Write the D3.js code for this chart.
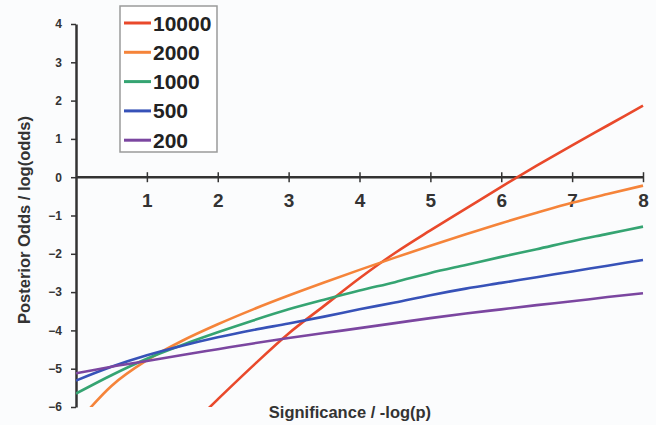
<!DOCTYPE html>
<html>
<head>
<meta charset="utf-8">
<script src="https://cdn.jsdelivr.net/npm/d3@7"></script>
<style>
  body { margin: 0; background: #fbfcfd; }
  svg { display: block; font-family: "Liberation Sans", Arial, sans-serif; font-weight: bold; }
</style>
</head>
<body>
<div id="chart"></div>
<script>
// significance values (-log p) where the curves were read
var sig = [0, 0.5, 1, 1.5, 2, 2.5, 3, 3.5, 4, 4.5, 5, 5.5, 6, 6.5, 7, 7.5, 8];

// posterior log odds, one array per sample size
var n10000 = [null, null, null, -6.7, -5.8, -4.92, -4.08, -3.36, -2.64, -1.98, -1.39, -0.82, -0.25, 0.3, 0.83, 1.35, 1.87];
var n2000 = [-6.45, -5.45, -4.78, -4.27, -3.84, -3.45, -3.09, -2.75, -2.42, -2.1, -1.79, -1.49, -1.2, -0.93, -0.67, -0.44, -0.22];
var n1000 = [-5.65, -5.17, -4.74, -4.38, -4.05, -3.74, -3.45, -3.2, -2.96, -2.74, -2.5, -2.29, -2.08, -1.88, -1.67, -1.48, -1.29];
var n500 = [-5.31, -4.95, -4.65, -4.4, -4.18, -3.99, -3.82, -3.64, -3.45, -3.27, -3.08, -2.91, -2.76, -2.61, -2.46, -2.31, -2.16];
var n200 = [-5.12, -4.95, -4.8, -4.64, -4.49, -4.34, -4.2, -4.07, -3.94, -3.81, -3.68, -3.56, -3.45, -3.34, -3.24, -3.13, -3.03];

var seriesNames = ['10000', '2000', '1000', '500', '200'];
var seriesValues = [n10000, n2000, n1000, n500, n200];
var colors = ['#e9492b', '#f5843a', '#35a472', '#3752b8', '#7b46a0'];

var xTicks = [1, 2, 3, 4, 5, 6, 7, 8];
var yTicks = [-6, -5, -4, -3, -2, -1, 0, 1, 2, 3, 4];

var width = 656, height = 425;

var svg = d3.select('#chart').append('svg')
  .attr('width', width)
  .attr('height', height);

var x = d3.scaleLinear().domain([0, 8]).range([76, 643]);
var y = d3.scaleLinear().domain([-6, 4]).range([407, 24]);

svg.append('defs').append('clipPath').attr('id', 'plot')
  .append('rect')
  .attr('x', x(0)).attr('y', y(4))
  .attr('width', x(8) - x(0) + 4).attr('height', y(-6) - y(4));

// y axis
var yAxis = svg.append('g')
  .attr('transform', 'translate(' + x(0) + ',0)')
  .call(d3.axisLeft(y).tickValues(yTicks).tickSize(5).tickPadding(9).tickSizeOuter(0));
yAxis.select('.domain').attr('stroke', '#333').attr('stroke-width', 2.5);
yAxis.selectAll('.tick line').attr('stroke', '#333').attr('stroke-width', 1.5);
yAxis.selectAll('.tick text').attr('font-size', 12).attr('fill', '#333').attr('font-weight', 'bold');

// x axis sits on y = 0, ticks cross the line
var xAxis = svg.append('g')
  .attr('transform', 'translate(0,' + y(0) + ')')
  .call(d3.axisBottom(x).tickValues(xTicks).tickSize(5).tickSizeOuter(0));
xAxis.select('.domain').attr('stroke', '#333').attr('stroke-width', 2.5)
  .attr('d', 'M' + x(0) + ',0H' + x(8));
xAxis.selectAll('.tick line').attr('stroke', '#333').attr('stroke-width', 1.5).attr('y1', -5);
xAxis.selectAll('.tick text')
  .attr('y', 16).attr('dy', '0.71em')
  .attr('font-size', 19).attr('fill', '#333').attr('font-weight', 'bold');

// curves
var line = d3.line()
  .defined(function (d) { return d[1] !== null; })
  .x(function (d) { return x(d[0]); })
  .y(function (d) { return y(d[1]); })
  .curve(d3.curveMonotoneX);

var plot = svg.append('g').attr('clip-path', 'url(#plot)');
seriesValues.forEach(function (vals, i) {
  var pts = sig.map(function (s, j) { return [s, vals[j]]; });
  plot.append('path')
    .datum(pts)
    .attr('fill', 'none')
    .attr('stroke', colors[i])
    .attr('stroke-width', 2.6)
    .attr('d', line);
});

// axis titles
svg.append('text')
  .attr('x', 350).attr('y', 418)
  .attr('text-anchor', 'middle')
  .attr('font-size', 16.5).attr('fill', '#333')
  .text('Significance / -log(p)');

svg.append('text')
  .attr('transform', 'translate(30,220) rotate(-90)')
  .attr('text-anchor', 'middle')
  .attr('font-size', 16.5).attr('fill', '#333')
  .text('Posterior Odds / log(odds)');

// legend
var legend = svg.append('g');
legend.append('rect')
  .attr('x', 120).attr('y', 6)
  .attr('width', 97).attr('height', 146)
  .attr('fill', '#ffffff').attr('stroke', '#9a9a9a').attr('stroke-width', 1.5);

seriesNames.forEach(function (name, i) {
  var cy = 23 + i * 29.3;
  legend.append('line')
    .attr('x1', 124).attr('x2', 151)
    .attr('y1', cy).attr('y2', cy)
    .attr('stroke', colors[i]).attr('stroke-width', 3);
  legend.append('text')
    .attr('x', 153).attr('y', cy + 7.5)
    .attr('font-size', 21).attr('fill', '#222')
    .text(name);
});
</script>
</body>
</html>
